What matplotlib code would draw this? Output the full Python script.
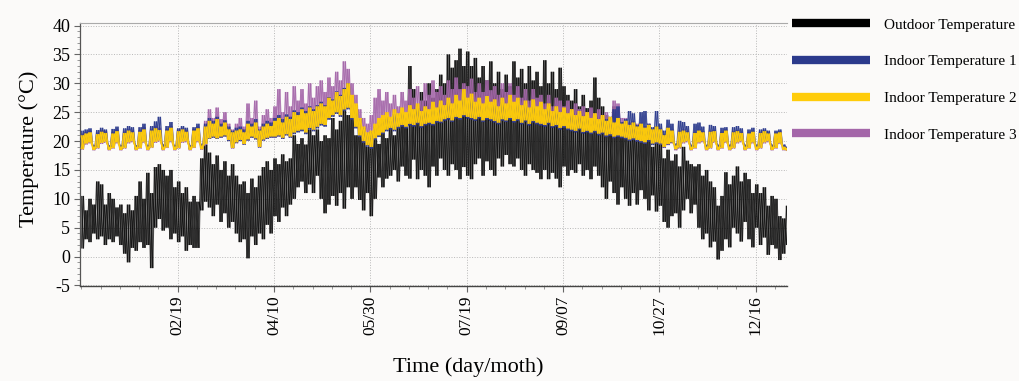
import numpy as np
import matplotlib
matplotlib.use("Agg")
import matplotlib.pyplot as plt
from matplotlib.lines import Line2D
from matplotlib.collections import LineCollection
from matplotlib.ticker import MultipleLocator, FixedLocator

plt.rcParams['font.family'] = ['Liberation Serif', 'DejaVu Serif']
plt.rcParams['axes.unicode_minus'] = False

# sample start day (day of year), one low/high pair per 2-day block
days = list(range(0, 367, 2))

tick_days = [50, 100, 150, 200, 250, 300, 350]
tick_labels = ['02/19', '04/10', '05/30', '07/19', '09/07', '10/27', '12/16']

# Outdoor temperature, block highs and lows
out_hi = [10.5, 8.0, 10.0, 9.0, 13.0, 12.5, 9.0, 11.0, 10.0, 8.5,
          9.0, 7.5, 9.0, 8.0, 10.5, 13.0, 10.0, 14.5, 11.0, 15.5,
          16.0, 15.0, 14.0, 15.0, 12.0, 13.0, 11.0, 12.0, 9.5, 10.5,
          9.5, 17.0, 19.4, 18.0, 16.0, 17.5, 15.0, 16.5, 14.0, 16.0,
          14.0, 12.5, 13.0, 11.0, 13.5, 12.0, 14.0, 15.5, 16.5, 15.0,
          17.0, 16.0, 17.7, 16.5, 17.0, 21.0, 19.5, 20.5, 19.4, 22.0,
          21.0, 22.0, 20.0, 21.0, 20.5, 24.0, 22.0, 23.5, 26.0, 24.5,
          24.0, 21.0, 23.0, 21.8, 19.0, 20.5, 21.0, 19.5, 22.0, 20.5,
          23.0, 21.0, 22.5, 24.0, 23.0, 33.0, 29.0, 26.0, 28.5, 27.0,
          30.0, 27.5, 29.0, 31.5, 30.0, 35.0, 32.7, 34.0, 36.0, 33.0,
          35.5, 33.0, 34.4, 31.0, 33.0, 30.5, 33.8, 30.0, 32.0, 29.0,
          31.5, 29.5, 33.8, 31.0, 32.5, 30.0, 33.0, 30.5, 32.0, 29.5,
          34.0, 30.0, 32.0, 29.0, 32.7, 29.5, 28.0, 27.0, 29.0, 26.0,
          28.0, 25.7, 27.0, 31.0, 27.5, 26.0, 24.5, 23.5, 26.0, 23.5,
          22.0, 23.5, 20.5, 22.0, 20.0, 21.5, 20.5, 21.6, 19.0, 20.0,
          19.8, 17.0, 18.5, 16.6, 17.7, 15.6, 19.0, 16.6, 16.0, 15.6,
          16.0, 14.0, 15.0, 13.0, 12.0, 8.8, 10.5, 14.6, 12.5, 14.0,
          15.6, 13.0, 14.5, 13.4, 11.0, 12.5, 11.0, 12.0, 8.8, 10.5,
          10.0, 7.0, 6.6, 8.8]
out_lo = [1.4, 3.0, 2.5, 4.0, 3.0, 3.5, 2.0, 3.0, 2.5, 3.5,
          2.0, 0.5, -1.0, 1.5, 1.0, 2.5, 1.5, 2.0, -2.0, 5.0,
          6.5, 4.5, 5.0, 3.0, 4.0, 2.5, 3.5, 1.0, 2.0, 1.5,
          1.5, 8.0, 9.5, 8.5, 7.0, 9.0, 6.0, 7.5, 5.0, 6.0,
          4.0, 2.5, 3.0, -0.3, 3.5, 2.0, 4.0, 3.0, 5.5, 4.0,
          7.0, 6.0, 8.5, 7.0, 9.0, 10.0, 12.0, 13.0, 11.0, 12.5,
          11.0, 14.0, 10.0, 7.5, 9.0, 10.5, 8.8, 11.0, 8.3, 12.0,
          10.0, 12.0, 9.8, 8.0, 11.0, 7.0, 10.0, 13.7, 12.0, 13.5,
          14.0, 15.0, 13.0, 15.6, 14.0, 13.5, 16.8, 13.4, 15.0, 14.0,
          12.0, 15.6, 14.0, 17.0, 15.0, 14.0, 16.0, 15.0, 13.4, 15.5,
          14.0, 13.4, 16.0, 17.0, 14.0, 16.5, 15.0, 14.0, 17.0, 15.6,
          17.6, 16.0, 15.6, 17.0, 15.0, 14.0, 16.0, 15.0, 14.5, 13.4,
          15.0, 13.4, 14.5, 13.5, 12.0, 15.6, 14.0, 15.0, 14.5, 16.0,
          14.0, 15.0, 13.4, 15.6, 14.0, 12.0, 10.0, 13.0, 11.0, 9.0,
          12.0, 10.0, 8.8, 11.0, 9.0, 11.5, 10.0, 8.0, 10.6, 7.8,
          8.8, 6.0, 5.0, 7.0, 7.5, 5.0, 8.0, 10.0, 7.5, 9.0,
          5.0, 3.0, 4.0, 1.6, 2.6, -0.5, 1.0, 3.0, 1.6, 5.0,
          4.0, 2.6, 6.0, 3.0, 1.6, 5.0, 2.0, 3.3, 0.3, 2.0,
          1.4, -0.6, 0.5, 2.0]

# Indoor temperature 1
in1_hi = [21.8, 22.0, 22.2, 19.3, 21.9, 22.3, 22.0, 19.3, 22.1, 22.5,
          19.3, 22.2, 22.6, 22.4, 19.3, 22.4, 23.0, 19.3, 22.6, 23.4,
          24.2, 19.5, 22.6, 23.3, 19.3, 22.2, 22.6, 22.3, 19.3, 22.4,
          23.0, 19.5, 23.0, 24.0, 23.5, 24.2, 23.0, 23.6, 22.5, 21.8,
          22.3, 22.5, 22.0, 23.5, 23.0, 23.8, 22.0, 23.0, 23.5, 23.2,
          24.0, 24.5, 23.8, 24.6, 24.2, 25.3, 25.0, 25.8, 25.2, 26.0,
          25.5, 26.2, 26.8, 26.2, 27.6, 27.2, 28.6, 28.0, 29.2, 30.0,
          27.8, 26.3, 23.8, 22.3, 21.3, 21.6, 22.5, 23.3, 23.8, 24.2,
          23.4, 24.7, 24.0, 25.0, 24.2, 25.4, 24.7, 25.7, 24.4, 25.2,
          24.7, 26.0, 25.0, 26.2, 25.4, 26.7, 25.7, 27.2, 26.2, 28.2,
          26.7, 27.4, 26.0, 26.7, 25.7, 27.0, 26.0, 26.4, 25.2, 26.7,
          25.7, 27.2, 26.0, 26.7, 25.4, 26.2, 25.0, 26.4, 25.2, 26.0,
          24.7, 25.7, 24.4, 25.2, 24.2, 25.0, 24.0, 24.7, 23.7, 24.4,
          23.5, 24.2, 23.2, 24.0, 23.0, 23.7, 23.8, 24.2, 25.5, 26.0,
          23.3, 23.8, 25.2, 24.8, 22.8, 25.0, 25.2, 23.0, 22.4, 25.2,
          23.0, 21.8, 23.7, 23.0, 19.6, 23.5, 23.3, 22.6, 19.4, 23.0,
          23.2, 22.5, 19.4, 22.8, 22.6, 19.4, 22.3, 22.4, 19.4, 22.4,
          22.6, 22.2, 19.4, 22.0, 22.3, 19.4, 22.0, 22.2, 21.8, 19.4,
          21.8, 22.0, 19.4, 19.0]
in1_lo = [18.7, 19.8, 20.0, 18.6, 18.9, 19.9, 20.1, 18.6, 18.9, 20.0,
          18.6, 18.9, 20.0, 20.2, 18.6, 18.9, 20.1, 18.6, 19.0, 20.1,
          20.3, 18.6, 19.0, 20.2, 18.6, 18.9, 20.1, 20.2, 18.6, 19.0,
          20.2, 18.7, 19.6, 20.4, 20.6, 20.4, 20.6, 20.8, 20.0, 18.8,
          19.7, 20.0, 19.4, 20.1, 20.6, 20.3, 18.9, 20.1, 20.4, 20.6,
          20.6, 20.8, 20.4, 21.0, 20.6, 21.2, 21.5, 21.7, 21.2, 22.0,
          21.7, 22.2, 22.7, 22.5, 23.7, 24.2, 24.7, 24.2, 25.2, 25.5,
          23.7, 22.2, 20.7, 19.7, 19.0, 18.7, 20.2, 20.7, 21.2, 21.7,
          22.0, 21.7, 22.2, 22.5, 22.2, 22.7, 22.5, 22.9, 22.3, 22.7,
          22.9, 22.7, 23.2, 23.1, 23.5, 23.7, 23.3, 23.9, 23.7, 24.2,
          23.9, 23.7, 23.5, 23.9, 23.3, 23.7, 23.5, 23.2, 22.9, 23.5,
          23.3, 23.7, 23.2, 23.5, 22.9, 23.3, 22.7, 23.2, 22.9, 22.7,
          22.5, 22.9, 22.3, 22.5, 22.0, 22.3, 21.9, 21.7, 21.5, 21.9,
          21.3, 21.5, 21.2, 21.5, 21.0, 21.2, 20.7, 20.9, 20.5, 20.7,
          20.5, 20.3, 20.0, 20.2, 19.9, 19.7, 19.5, 19.9, 19.3, 19.5,
          19.4, 18.9, 19.4, 19.7, 18.6, 18.9, 19.9, 20.1, 18.6, 18.9,
          19.9, 20.1, 18.6, 18.9, 20.0, 18.6, 18.9, 20.0, 18.6, 18.9,
          19.9, 20.1, 18.6, 18.9, 19.9, 18.6, 18.9, 19.9, 20.1, 18.6,
          18.9, 19.8, 18.6, 18.5]

# Indoor temperature 2
in2_hi = [21.0, 21.3, 21.5, 19.0, 21.2, 21.6, 21.4, 19.0, 21.3, 21.7,
          19.0, 21.4, 21.8, 21.5, 19.0, 21.6, 22.0, 19.0, 21.8, 22.2,
          21.9, 19.0, 21.8, 22.3, 19.0, 21.7, 22.0, 21.6, 19.0, 21.8,
          22.2, 19.2, 22.5, 23.5, 23.0, 23.8, 22.5, 23.2, 22.0, 21.5,
          21.8, 22.0, 21.5, 23.0, 22.5, 23.2, 21.8, 22.5, 23.0, 22.6,
          23.5, 24.0, 23.2, 24.2, 23.8, 25.0, 24.5, 25.5, 24.8, 25.8,
          25.2, 26.0, 26.5, 26.0, 27.5, 27.0, 28.5, 27.8, 29.0, 30.0,
          28.0, 26.5, 24.0, 22.5, 21.5, 21.8, 23.0, 24.0, 24.5, 25.0,
          24.2, 25.5, 24.8, 25.8, 25.0, 26.2, 25.5, 26.5, 25.2, 26.0,
          25.5, 26.8, 25.8, 27.0, 26.2, 27.5, 26.5, 28.0, 27.0, 29.0,
          27.5, 28.2, 26.8, 27.5, 26.5, 27.8, 26.8, 27.2, 26.0, 27.5,
          26.5, 28.0, 26.8, 27.5, 26.2, 27.0, 25.8, 27.2, 26.0, 26.8,
          25.5, 26.5, 25.2, 26.0, 25.0, 25.8, 24.8, 25.5, 24.5, 25.2,
          24.3, 25.0, 24.0, 24.8, 23.8, 24.5, 23.5, 24.2, 23.2, 24.0,
          23.0, 23.5, 22.8, 23.2, 22.5, 23.0, 22.3, 22.8, 22.0, 22.5,
          22.0, 21.0, 22.3, 21.8, 19.2, 21.6, 21.8, 21.5, 19.0, 21.4,
          21.8, 21.5, 19.0, 21.6, 21.7, 19.0, 21.4, 21.8, 19.0, 21.5,
          21.7, 21.4, 19.0, 21.3, 21.6, 19.0, 21.4, 21.7, 21.3, 19.0,
          21.3, 21.5, 19.0, 18.8]
in2_lo = [18.6, 19.6, 19.8, 18.5, 18.8, 19.7, 19.9, 18.5, 18.8, 19.8,
          18.5, 18.8, 19.8, 20.0, 18.5, 18.8, 19.9, 18.5, 18.9, 19.9,
          20.1, 18.5, 18.9, 20.0, 18.5, 18.8, 19.9, 20.0, 18.5, 18.9,
          20.0, 18.6, 19.5, 20.5, 20.8, 20.5, 20.8, 21.0, 20.2, 18.8,
          19.8, 20.2, 19.5, 20.3, 20.8, 20.5, 19.0, 20.3, 20.6, 20.8,
          20.8, 21.0, 20.6, 21.2, 20.8, 21.5, 21.8, 22.0, 21.5, 22.3,
          22.0, 22.5, 23.0, 22.8, 24.0, 24.5, 25.0, 24.5, 25.5, 25.8,
          24.0, 22.5, 21.0, 20.0, 19.3, 19.0, 20.5, 21.0, 21.5, 22.0,
          22.3, 22.0, 22.5, 22.8, 22.5, 23.0, 22.8, 23.2, 22.6, 23.0,
          23.2, 23.0, 23.5, 23.4, 23.8, 24.0, 23.6, 24.2, 24.0, 24.5,
          24.2, 24.0, 23.8, 24.2, 23.6, 24.0, 23.8, 23.5, 23.2, 23.8,
          23.6, 24.0, 23.5, 23.8, 23.2, 23.6, 23.0, 23.5, 23.2, 23.0,
          22.8, 23.2, 22.6, 22.8, 22.3, 22.6, 22.2, 22.0, 21.8, 22.2,
          21.6, 21.8, 21.5, 21.8, 21.3, 21.5, 21.0, 21.2, 20.8, 21.0,
          20.8, 20.6, 20.3, 20.5, 20.2, 20.0, 19.8, 20.2, 19.6, 19.8,
          19.6, 19.0, 19.5, 19.8, 18.6, 18.9, 19.8, 20.0, 18.5, 18.8,
          19.8, 20.0, 18.5, 18.8, 19.9, 18.5, 18.8, 19.9, 18.5, 18.8,
          19.8, 20.0, 18.5, 18.8, 19.8, 18.5, 18.8, 19.8, 20.0, 18.5,
          18.8, 19.7, 18.5, 18.4]

# Indoor temperature 3
in3_hi = [21.3, 21.6, 21.8, 19.2, 21.5, 21.9, 21.7, 19.2, 21.6, 22.0,
          19.2, 21.7, 22.1, 21.8, 19.2, 21.9, 22.4, 19.2, 22.1, 22.6,
          22.3, 19.2, 22.1, 22.6, 19.2, 22.0, 22.3, 21.9, 19.2, 22.1,
          22.5, 19.4, 23.5, 25.5, 24.0, 25.8, 23.8, 25.0, 23.0, 22.0,
          23.0, 24.0, 22.5, 26.5, 24.0, 27.0, 22.5, 24.5, 25.5, 24.0,
          26.0, 29.0, 25.0, 28.5, 26.0, 29.5, 27.0, 29.0, 26.5, 30.0,
          27.5, 29.5, 30.5, 28.5, 31.0, 29.5, 32.0, 30.5, 33.8, 32.5,
          30.0, 28.0, 25.5, 24.0, 23.0, 24.5, 27.5, 29.0, 27.0, 28.5,
          26.5, 28.0, 26.0, 28.5, 27.0, 29.0, 27.5, 29.5, 27.0, 30.0,
          28.0, 30.5, 28.5, 29.5, 28.0, 30.5, 29.0, 31.0, 29.0, 30.0,
          29.5, 30.8, 28.5, 30.0, 28.5, 30.5, 28.8, 29.5, 28.0, 30.0,
          28.5, 30.0, 28.0, 29.5, 27.5, 29.0, 27.0, 29.0, 27.5, 28.0,
          26.5, 28.0, 26.0, 27.5, 27.0, 26.0, 27.0, 25.5, 26.5, 25.5,
          26.0, 25.0, 25.8, 24.8, 25.5, 24.5, 25.0, 24.0, 27.0, 26.5,
          24.0, 24.0, 23.2, 23.5, 23.0, 23.2, 22.6, 23.0, 22.2, 22.6,
          22.2, 21.2, 22.5, 22.0, 19.4, 21.8, 22.0, 21.7, 19.2, 21.6,
          22.0, 21.7, 19.2, 21.8, 21.9, 19.2, 21.6, 22.0, 19.2, 21.7,
          21.9, 21.6, 19.2, 21.5, 21.8, 19.2, 21.6, 21.9, 21.5, 19.2,
          21.5, 21.7, 19.2, 19.0]
in3_lo = [18.5, 19.4, 19.6, 18.4, 18.7, 19.5, 19.7, 18.4, 18.7, 19.6,
          18.4, 18.7, 19.6, 19.8, 18.4, 18.7, 19.7, 18.4, 18.8, 19.7,
          19.9, 18.4, 18.8, 19.8, 18.4, 18.7, 19.7, 19.8, 18.4, 18.8,
          19.8, 18.5, 19.4, 20.4, 20.6, 20.4, 20.6, 20.8, 20.0, 18.7,
          19.6, 20.0, 19.4, 20.1, 20.6, 20.3, 18.9, 20.1, 20.4, 20.6,
          20.6, 20.8, 20.4, 21.0, 20.6, 21.3, 21.6, 21.8, 21.3, 22.1,
          21.8, 22.3, 22.8, 22.6, 23.8, 24.3, 24.8, 24.3, 25.3, 25.6,
          23.8, 22.3, 20.8, 19.8, 19.2, 18.9, 20.3, 20.8, 21.3, 21.8,
          22.1, 21.8, 22.3, 22.6, 22.3, 22.8, 22.6, 23.0, 22.4, 22.8,
          23.0, 22.8, 23.3, 23.2, 23.6, 23.8, 23.4, 24.0, 23.8, 24.3,
          24.0, 23.8, 23.6, 24.0, 23.4, 23.8, 23.6, 23.3, 23.0, 23.6,
          23.4, 23.8, 23.3, 23.6, 23.0, 23.4, 22.8, 23.3, 23.0, 22.8,
          22.6, 23.0, 22.4, 22.6, 22.1, 22.4, 22.0, 21.8, 21.6, 22.0,
          21.4, 21.6, 21.3, 21.6, 21.1, 21.3, 20.8, 21.0, 20.6, 20.8,
          20.6, 20.4, 20.1, 20.3, 20.0, 19.8, 19.6, 20.0, 19.4, 19.6,
          19.4, 18.8, 19.3, 19.6, 18.4, 18.7, 19.6, 19.8, 18.4, 18.7,
          19.6, 19.8, 18.4, 18.7, 19.7, 18.4, 18.7, 19.7, 18.4, 18.7,
          19.6, 19.8, 18.4, 18.7, 19.6, 18.4, 18.7, 19.6, 19.8, 18.4,
          18.7, 19.5, 18.4, 18.3]

for arr in (out_hi, out_lo, in1_hi, in1_lo, in2_hi, in2_lo, in3_hi, in3_lo):
    assert len(arr) == len(days), len(arr)


def zigzag_segments(lo, hi):
    # each 2-day block is swept low->high and high->low (two crossing
    # traces), so the band fills in like the dense hourly record
    d = np.array(days, dtype=float)
    segs = []
    for first, second in ((lo, hi), (hi, lo)):
        x = np.empty(2 * len(d))
        y = np.empty(2 * len(d))
        x[0::2] = d
        x[1::2] = d + 1
        y[0::2] = first
        y[1::2] = second
        pts = np.column_stack([x, y])
        segs.append(np.stack([pts[:-1], pts[1:]], axis=1))
    return np.concatenate(segs)


bg = '#fbfaf9'
fig = plt.figure(figsize=(10.19, 3.81), dpi=100, facecolor=bg)
ax = fig.add_axes([0.0785, 0.2493, 0.6938, 0.6911], facecolor=bg)

series = [
    ('Outdoor Temperature', out_lo, out_hi, '#000000', 1.1, 0.7, 1),
    ('Indoor Temperature 1', in1_lo, in1_hi, '#2b3a8c', 1.0, 0.85, 3),
    ('Indoor Temperature 2', in2_lo, in2_hi, '#ffcc0a', 1.1, 0.95, 4),
    ('Indoor Temperature 3', in3_lo, in3_hi, '#a466a9', 1.0, 0.85, 2),
]
handles = []
for name, lo, hi, col, lw, a, z in series:
    lc = LineCollection(zigzag_segments(lo, hi), colors=col, linewidths=lw,
                        alpha=a, zorder=z)
    ax.add_collection(lc)
    handles.append(Line2D([], [], color=col, lw=6, solid_capstyle='butt'))

ax.set_xlim(-0.7, 366.2)
ax.set_ylim(-5.1, 40.5)

ax.xaxis.set_major_locator(FixedLocator(tick_days))
ax.xaxis.set_minor_locator(MultipleLocator(10))
ax.set_xticklabels(tick_labels, rotation=90, fontsize=12.5)
ax.yaxis.set_major_locator(MultipleLocator(5))
ax.yaxis.set_minor_locator(MultipleLocator(1))
ax.tick_params(axis='y', labelsize=13)
ax.tick_params(which='major', direction='out', length=4, width=0.8, color='#666666', pad=3)
ax.tick_params(which='minor', direction='out', length=2, width=0.6, color='#888888')

ax.grid(True, which='major', linestyle=':', color='#b8b8b8', lw=0.7, zorder=0)
ax.set_axisbelow(True)

ax.spines['right'].set_visible(False)
ax.spines['top'].set_color('#aaaaaa')
ax.spines['left'].set_color('#555555')
ax.spines['bottom'].set_color('#444444')
ax.spines['left'].set_linewidth(0.9)
ax.spines['bottom'].set_linewidth(1.0)

ax.set_ylabel('Temperature (°C)', fontsize=16)
ax.yaxis.set_label_coords(-0.058, 0.52)
ax.set_xlabel('Time (day/moth)', fontsize=16)
ax.xaxis.set_label_coords(0.549, -0.27)

fig.legend(handles, [s[0] for s in series], loc='upper left',
           bbox_to_anchor=(792 / 1019, 1 - 18 / 381), frameon=False,
           fontsize=11, handlelength=5.1, handletextpad=0.9,
           labelspacing=1.5, borderpad=0, borderaxespad=0)

fig.savefig('out.png', dpi=100, facecolor=bg)
